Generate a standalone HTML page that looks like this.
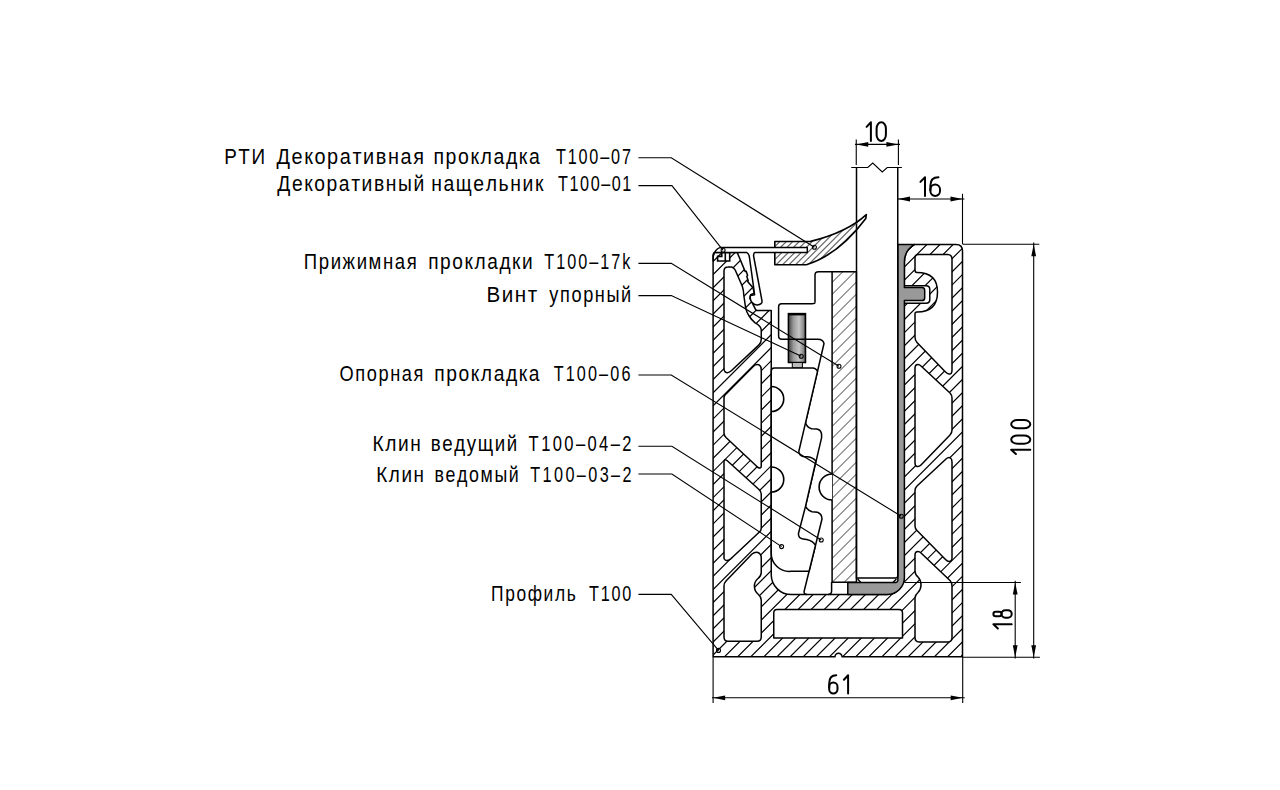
<!DOCTYPE html>
<html><head><meta charset="utf-8"><style>
html,body{margin:0;padding:0;background:#fff;width:1280px;height:790px;overflow:hidden}
svg{display:block}
.lb{font-family:"Liberation Sans",sans-serif;font-size:22.5px;fill:#000}
.dm{font-family:"Liberation Sans",sans-serif;font-size:29px;fill:#000;stroke:#fff;stroke-width:0.35px}
.ld{fill:none;stroke:#000;stroke-width:1.1}
</style></head><body>
<svg width="1280" height="790" viewBox="0 0 1280 790">
<defs>
<linearGradient id="scr" x1="0" y1="0" x2="1" y2="0">
<stop offset="0" stop-color="#444"/><stop offset="0.3" stop-color="#9a9a9a"/><stop offset="0.62" stop-color="#c6c6c6"/><stop offset="0.88" stop-color="#8a8a8a"/><stop offset="1" stop-color="#444"/>
</linearGradient>
</defs>
<clipPath id="cp"><path d="M713.1,261 L713.1,256 Q713.4,252.6 715,252.6 L737.3,252.6 L745.1,271.4 L746.2,271.2 L747.6,275.5 L746.8,276.4 L748.2,280.5 L747.6,281.4 L753,287.8 L754.3,293.2 L750.6,294.8 L749.9,298.5 L753,304.3 L755.4,309.2 L756.6,310.6 L771.25,310.6 L771.25,575 A20,20 0 0 0 791.25,594.6 L886.5,594.6 A17,17 0 0 0 903.6,577.5 L904.4,262.3 A20.3,20.3 0 0 1 914.7,244.4 L956,244.4 Q962.5,244.4 962.5,251 L962.5,656.8 L842,656.8 A3.5,3.5 0 0 0 835,656.8 L713.1,656.8 Z"/></clipPath>
<path d="M270.22,665L695.22,240M283.34,665L708.34,240M296.46,665L721.46,240M309.58,665L734.58,240M322.7,665L747.7,240M335.82,665L760.82,240M348.94,665L773.94,240M362.06,665L787.06,240M375.18,665L800.18,240M388.3,665L813.3,240M401.42,665L826.42,240M414.54,665L839.54,240M427.66,665L852.66,240M440.78,665L865.78,240M453.9,665L878.9,240M467.02,665L892.02,240M480.14,665L905.14,240M493.26,665L918.26,240M506.38,665L931.38,240M519.5,665L944.5,240M532.62,665L957.62,240M545.74,665L970.74,240M558.86,665L983.86,240M571.98,665L996.98,240M585.1,665L1010.1,240M598.22,665L1023.22,240M611.34,665L1036.34,240M624.46,665L1049.46,240M637.58,665L1062.58,240M650.7,665L1075.7,240M663.82,665L1088.82,240M676.94,665L1101.94,240M690.06,665L1115.06,240M703.18,665L1128.18,240M716.3,665L1141.3,240M729.42,665L1154.42,240M742.54,665L1167.54,240M755.66,665L1180.66,240M768.78,665L1193.78,240M781.9,665L1206.9,240M795.02,665L1220.02,240M808.14,665L1233.14,240M821.26,665L1246.26,240M834.38,665L1259.38,240M847.5,665L1272.5,240M860.62,665L1285.62,240M873.74,665L1298.74,240M886.86,665L1311.86,240M899.98,665L1324.98,240M913.1,665L1338.1,240M926.22,665L1351.22,240M939.34,665L1364.34,240M952.46,665L1377.46,240M965.58,665L1390.58,240M978.7,665L1403.7,240" stroke="#000" stroke-width="1.2" clip-path="url(#cp)"/>
<path d="M713.1,261 L713.1,256 Q713.4,252.6 715,252.6 L737.3,252.6 L745.1,271.4 L746.2,271.2 L747.6,275.5 L746.8,276.4 L748.2,280.5 L747.6,281.4 L753,287.8 L754.3,293.2 L750.6,294.8 L749.9,298.5 L753,304.3 L755.4,309.2 L756.6,310.6 L771.25,310.6 L771.25,575 A20,20 0 0 0 791.25,594.6 L886.5,594.6 A17,17 0 0 0 903.6,577.5 L904.4,262.3 A20.3,20.3 0 0 1 914.7,244.4 L956,244.4 Q962.5,244.4 962.5,251 L962.5,656.8 L842,656.8 A3.5,3.5 0 0 0 835,656.8 L713.1,656.8 Z" fill="none" stroke="#000" stroke-width="1.5" stroke-linejoin="round"/>
<path d="M724,368 L724,271 Q724,267 728,267 L731.6,266.9 Q734,267.5 735.2,270 L742.3,286.2 Q743.6,290 743.9,296 L745.6,307.6 Q746.5,312 748.8,315.5 Q751.5,320 755.1,322.8 Q761.25,326 761.25,330 L761.25,339.5 Q761.25,343 758.7,345.1 L731.3,370.8 Q727.6,374.2 724.9,371.6 Q724,370.5 724,368 Z" fill="#fff" stroke="#000" stroke-width="1.5" stroke-linejoin="round"/>
<path d="M724,398 Q724,395.5 726,394 L753.5,366.3 Q756.5,363.6 759.5,365.2 Q761.25,366.5 761.25,370 L761.25,466 Q761.25,469 758,467.5 L726,437.5 Q724,435.5 724,433 Z" fill="#fff" stroke="#000" stroke-width="1.5" stroke-linejoin="round"/>
<path d="M724,462 Q724,458.5 727,460.5 L759,489.5 Q761.25,491.5 761.25,494 L761.25,528 Q761.25,530.5 759.4,532 L730.3,559.2 Q726,562.3 724,558.5 Z" fill="#fff" stroke="#000" stroke-width="1.5" stroke-linejoin="round"/>
<path d="M724,586 Q724,583 726,581 L752,554 Q755,551.5 758,552.5 Q761.25,554 761.25,558 L761.25,572.5 Q761.25,576 758,578.5 Q754.4,581.5 754.4,586 Q754.4,591 758,594 Q761.25,597 761.25,600 L761.25,637 Q761.25,641.3 757,641.3 L728,641.3 Q724,641.3 724,637 Z" fill="#fff" stroke="#000" stroke-width="1.5" stroke-linejoin="round"/>
<path d="M915,258 Q915,254.6 918.4,254.6 L948,254.6 Q952,255 952,259 L952,370 Q952,374.5 949,374 Q947.5,374 945,371.5 L917,342.5 Q915,340.5 915,337 L915,314 Q915,312 917,312 Q937.5,312 937.5,292 Q937.5,272.5 917,272.5 Q915,272.5 915,270 Z" fill="#fff" stroke="#000" stroke-width="1.5" stroke-linejoin="round"/>
<path d="M915,368 Q915,364.5 918,364.5 Q919.5,364.5 921,366 L950,393 Q952,395 952,398 L952,430 Q952,433 950,435 L921,465 Q919,467 917,466.5 Q915,466 915,463 Z" fill="#fff" stroke="#000" stroke-width="1.5" stroke-linejoin="round"/>
<path d="M915,490.5 Q915,488 917,486 L946,459 Q948.5,456.8 950.5,458 Q952,459 952,462 L952,558 Q952,561.5 949,561.5 Q947.5,561.5 945.5,559.5 L917,530.5 Q915,528.5 915,526 Z" fill="#fff" stroke="#000" stroke-width="1.5" stroke-linejoin="round"/>
<path d="M915,555 Q915,551.5 918,551.5 Q919.5,551.5 921,553 L950,580.5 Q952,582.5 952,586 L952,637.5 Q952,641.9 948,641.9 L919,641.9 Q915,641.9 915,637.5 L915,598 Q915,595 918,592.5 Q921,589.5 921,585 Q921,580 918,577 Q915,574.5 915,571 Z" fill="#fff" stroke="#000" stroke-width="1.5" stroke-linejoin="round"/>
<path d="M903,285.8 L926,285.8 Q929.8,285.8 929.8,289.5 L929.8,299.5 Q929.8,303.3 926,303.3 L903,303.3 Z" fill="#fff" stroke="#000" stroke-width="1.5" stroke-linejoin="round"/>
<path d="M777,609.4 L899,609.4 Q902.5,609.4 902.5,613 L902.5,638.1 L773.75,638.1 L773.75,613 Q773.75,609.4 777,609.4 Z" fill="#fff" stroke="#000" stroke-width="1.5" stroke-linejoin="round"/>
<path d="M897.75,244.4 L914.7,244.4 A20.3,20.3 0 0 0 904.4,262.3 L904.4,287.6 L922,287.6 Q924.7,287.6 924.7,290.5 L924.7,297.7 Q924.7,300.6 922,300.6 L904.4,300.6 L904.4,577.5 A17,17 0 0 1 887.4,594.5 L847.8,594.5 L847.8,582.6 L896,582.6 Q897.9,582.2 897.9,580 Z" fill="#999" stroke="#000" stroke-width="1.5" stroke-linejoin="round"/>
<clipPath id="cl"><rect x="832.1" y="271.8" width="24.3" height="310.5"/></clipPath>
<path d="M506.5,584L820.5,270M518.5,584L832.5,270M530.5,584L844.5,270M542.5,584L856.5,270M554.5,584L868.5,270M566.5,584L880.5,270M578.5,584L892.5,270M590.5,584L904.5,270M602.5,584L916.5,270M614.5,584L928.5,270M626.5,584L940.5,270M638.5,584L952.5,270M650.5,584L964.5,270M662.5,584L976.5,270M674.5,584L988.5,270M686.5,584L1000.5,270M698.5,584L1012.5,270M710.5,584L1024.5,270M722.5,584L1036.5,270M734.5,584L1048.5,270M746.5,584L1060.5,270M758.5,584L1072.5,270M770.5,584L1084.5,270M782.5,584L1096.5,270M794.5,584L1108.5,270M806.5,584L1120.5,270M818.5,584L1132.5,270M830.5,584L1144.5,270M842.5,584L1156.5,270M854.5,584L1168.5,270M866.5,584L1180.5,270" stroke="#777" stroke-width="1.1" clip-path="url(#cl)"/>
<path d="M832.1,271.8 L856.4,271.8 L856.4,582.3 L832.1,582.3 Z" fill="none" stroke="#000" stroke-width="1.5"/>
<rect x="788.4" y="313.6" width="17.1" height="48.9" fill="url(#scr)" stroke="#000" stroke-width="1.5"/>
<path d="M788.4,314.2 L805.5,314.2" stroke="#000" stroke-width="2.4"/>
<rect x="792.3" y="362.5" width="10.1" height="5.4" fill="#bbb" stroke="#000" stroke-width="1"/>
<path d="M815,302.6 L815,275 Q815,271.8 818.5,271.8 L832.1,271.8" fill="none" stroke="#000" stroke-width="1.5"/>
<path d="M815,302.6 Q815,303.8 812,303.8 L781.5,303.8 Q778.6,303.8 778.6,307 L778.6,336 Q778.6,339.25 782,339.25 L818,339.25 Q823,339.25 824,343.5 L805.5,422.8 Q807,427.5 811.5,428.8 L816.9,429.1 Q821.6,430 821.6,435.5 L821.6,437.7 L805.5,506.4 Q807.5,510.3 812,511.7 L817.5,512.3 Q822,514 822,519 L804.2,591 Q803.5,594.4 807,594.4" fill="none" stroke="#000" stroke-width="1.5" stroke-linejoin="round"/>
<path d="M831.6,582 L831.6,591 Q831.6,594.5 828,594.5" fill="none" stroke="#000" stroke-width="1.5"/>
<path d="M771.25,371 Q771.25,367.9 774.5,367.9 L812.5,367.9 Q816,367.9 817.5,371.4 L805.5,422.8 L798.8,451.5 Q799.5,456 803,456.4 L807.5,456.8 Q813,457.5 815.9,461 L805.5,506.4 L798.4,533.75 Q798.5,538.4 803,539 L806.7,539.6 Q813,541 815.45,545.5 L809.1,571.3 L790.8,571.3 A18,18 0 0 1 771.25,553 Z" fill="#fff" stroke="#000" stroke-width="1.5" stroke-linejoin="round"/>
<path d="M771.25,386.5 A12.5,12.5 0 0 1 771.25,411.5 M771.25,467 A12.5,12.5 0 0 1 771.25,492" fill="none" stroke="#000" stroke-width="1.6"/>
<path d="M832.1,474 A13,13 0 0 0 832.1,500" fill="#fff" stroke="#000" stroke-width="1.6"/>
<path d="M856.5,167.5 L856.5,578.1 L895.5,578.1 Q897.75,578.1 897.75,575.8 L897.75,167.5 M857.6,579 L860.6,582.2 M893.2,582.2 L896.4,579" fill="none" stroke="#000" stroke-width="1.5"/>
<path d="M851.25,167.5 L867.75,167.5 L872.75,163.1 L882.25,171.9 L887.25,167.5 L901.9,167.5" fill="none" stroke="#000" stroke-width="1.1"/>
<clipPath id="cd"><path d="M774.8,241.5 L810.6,241.4 Q847.3,232.2 866.3,214.6 L865.8,218.5 Q838.5,254.9 806.4,264.7 L774.8,264.7 Z"/></clipPath>
<path d="M706.21,270L766.21,210M712.67,270L772.67,210M719.13,270L779.13,210M725.59,270L785.59,210M732.05,270L792.05,210M738.51,270L798.51,210M744.97,270L804.97,210M751.43,270L811.43,210M757.89,270L817.89,210M764.35,270L824.35,210M770.81,270L830.81,210M777.27,270L837.27,210M783.73,270L843.73,210M790.19,270L850.19,210M796.65,270L856.65,210M803.11,270L863.11,210M809.57,270L869.57,210M816.03,270L876.03,210M822.49,270L882.49,210M828.95,270L888.95,210M835.41,270L895.41,210M841.87,270L901.87,210M848.33,270L908.33,210M854.79,270L914.79,210M861.25,270L921.25,210M867.71,270L927.71,210M874.17,270L934.17,210" stroke="#666" stroke-width="1.2" clip-path="url(#cd)"/>
<path d="M774.8,241.5 L810.6,241.4 Q847.3,232.2 866.3,214.6 L865.8,218.5 Q838.5,254.9 806.4,264.7 L774.8,264.7 Z" fill="none" stroke="#000" stroke-width="1.6" stroke-linejoin="round"/>
<path d="M807.3,247.4 L720.5,247.4 Q714.5,249 713.2,257 L713.2,261 L713.2,256 Q713.4,252.6 715,252.6 L746.9,252.6 Q748.8,253.5 749.4,257 L753.8,288.7 L754.6,294.8 L750.5,295.6 Q749.4,299 752.1,302.6 Q754.5,305.2 757.1,304.9 Q762.6,304.4 762,300.8 L753.6,256 Q753.4,253 755,252.6 L807.3,252.6 Z" fill="#fff" stroke="#000" stroke-width="1.5" stroke-linejoin="round"/>
<path d="M717.6,256.4 L721.8,256.4 L721.8,252.8 L729.7,252.8 L729.7,261 L717.6,261 Z" fill="#fff" stroke="#000" stroke-width="1.6"/>
<path d="M725.3,253 L725.3,261" fill="none" stroke="#000" stroke-width="1.6"/>
<path d="M856.25,165 L856.25,139.4 M898.4,165 L898.4,139.4 M855,144.4 L900,144.4" stroke="#000" stroke-width="1.1" fill="none"/>
<path d="M856.25,144.4 L868.25,142 L868.25,146.8 Z" fill="#000"/>
<path d="M898.4,144.4 L886.4,146.8 L886.4,142 Z" fill="#000"/>
<path d="M962.5,193.75 L962.5,244 M897.5,199 L964.4,199" stroke="#000" stroke-width="1.1" fill="none"/>
<path d="M898,199 L910,196.6 L910,201.4 Z" fill="#000"/>
<path d="M962.5,199 L950.5,201.4 L950.5,196.6 Z" fill="#000"/>
<path d="M962.5,244.3 L1039.3,244.3 M1033.7,242.5 L1033.7,658.6 M962.5,657.3 L1039.9,657.3" stroke="#000" stroke-width="1.1" fill="none"/>
<path d="M1033.7,244.3 L1036.1,256.3 L1031.3,256.3 Z" fill="#000"/>
<path d="M1033.7,657.3 L1031.3,645.3 L1036.1,645.3 Z" fill="#000"/>
<path d="M904.4,582.5 L1020.9,582.5 M1015.2,580.8 L1015.2,658.6" stroke="#000" stroke-width="1.1" fill="none"/>
<path d="M1015.2,582.5 L1017.6,594.5 L1012.8,594.5 Z" fill="#000"/>
<path d="M1015.2,657.3 L1012.8,645.3 L1017.6,645.3 Z" fill="#000"/>
<path d="M713.1,657 L713.1,703 M962.7,657 L962.7,703 M712,697.8 L964.7,697.8" stroke="#000" stroke-width="1.1" fill="none"/>
<path d="M713.1,697.8 L725.1,695.4 L725.1,700.2 Z" fill="#000"/>
<path d="M962.7,697.8 L950.7,700.2 L950.7,695.4 Z" fill="#000"/>
<g fill="none" stroke="#000" stroke-width="2" stroke-linecap="round" stroke-linejoin="round">
<path d="M866.6,126.86 L870.9,122.3 L870.9,140.9"/>
<rect x="876.6" y="122.3" width="9.3" height="18.6" rx="4.65" ry="6.14"/>
<path d="M920.4,181.86 L925,177.3 L925,195.9"/>
<rect x="930.4" y="184.54" width="9.6" height="11.36" rx="4.8" ry="4.8"/><path d="M930.4,190.34 L930.4,185.57 C930.4,180.01 933.46,177.3 938.45,177.3"/>
<rect x="829.2" y="682.38" width="8.3" height="11.12" rx="4.15" ry="4.15"/><path d="M829.2,687.53 L829.2,683.39 C829.2,677.94 831.81,675.3 836.23,675.3"/>
<path d="M843.9,679.75 L848.1,675.3 L848.1,693.5"/>
<g transform="translate(1031.3 455) rotate(-90)">
<path d="M1,-15.4 L5.3,-20.1 L5.3,-1"/>
<rect x="11.3" y="-20.1" width="8.3" height="19.1" rx="4.15" ry="6.3"/>
<rect x="26.7" y="-20.1" width="8.3" height="19.1" rx="4.15" ry="6.3"/>
</g>
<g transform="translate(1012.7 629.5) rotate(-90)">
<path d="M1,-14.82 L5.3,-19.3 L5.3,-1"/>
<rect x="13.3" y="-19.3" width="4.5" height="8.12" rx="2.25" ry="2.25"/><rect x="11.8" y="-11.18" width="7.5" height="10.18" rx="3.75" ry="3.75"/>
</g>
</g>
<text transform="scale(0.839 1)" x="267.17 284.08 299.74" y="163.6" class="lb">РТИ</text>
<text transform="scale(0.883 1)" x="313.09 330.14 344.47 356.13 370.46 384.79 399.12 411.24 425.63 439.4 453.64 467.97" y="163.6" class="lb">Декоративная</text>
<text transform="scale(0.865 1)" x="501.1 515.13 529.49 543.85 555.54 570.51 584.87 599.84 611.53" y="163.6" class="lb">прокладка</text>
<text transform="scale(0.72 1)" x="772.13 788.43 803.5 818.56 833.63 848.69 863.76" y="163.6" class="lb">Т100–07</text>
<text transform="scale(0.856 1)" x="323.9 341.01 355.39 367.11 381.49 395.87 410.26 422.43 436.87 450.7 464.99 483.03" y="191.3" class="lb">Декоративный</text>
<text transform="scale(0.86 1)" x="501.35 515.63 530 550.37 564.74 579.73 593.31 607.6 622.02" y="191.3" class="lb">нащельник</text>
<text transform="scale(0.72 1)" x="775.05 790.97 805.66 820.35 835.04 849.73 864.42" y="191.3" class="lb">Т100–01</text>
<text transform="scale(0.825 1)" x="368.24 386.35 400.8 415.3 432.29 446.79 464.2 478.56 493.01" y="269.4" class="lb">Прижимная</text>
<text transform="scale(0.848 1)" x="504.93 518.99 533.39 547.78 559.5 574.51 588.91 603.92 615.64" y="269.4" class="lb">прокладки</text>
<text transform="scale(0.72 1)" x="756.02 772.52 787.79 803.06 818.33 833.6 848.87 864.13" y="269.4" class="lb">Т100–17k</text>
<text transform="scale(0.915 1)" x="531.6 548.36 562.68 576.86" y="301.9" class="lb">Винт</text>
<text transform="scale(0.807 1)" x="680.74 693.97 708.13 722.62 737.11 751.51 769.66" y="301.9" class="lb">упорный</text>
<text transform="scale(0.809 1)" x="419.7 439.19 453.35 467.85 482.35 496.76 511.26" y="380.8" class="lb">Опорная</text>
<text transform="scale(0.855 1)" x="507.8 521.86 536.25 550.64 562.36 577.36 591.75 606.76 618.48" y="380.8" class="lb">прокладка</text>
<text transform="scale(0.72 1)" x="768.94 785.65 801.13 816.61 832.1 847.58 863.06" y="380.8" class="lb">Т100–06</text>
<text transform="scale(0.849 1)" x="438.67 453.66 468.68 483.13" y="451.3" class="lb">Клин</text>
<text transform="scale(0.831 1)" x="518.3 532.18 546.63 561.69 574.87 595.31 609.81" y="451.3" class="lb">ведущий</text>
<text transform="scale(0.735 1)" x="719.22 736.24 752.02 767.8 783.58 799.37 815.15 830.93 846.71" y="451.3" class="lb">Т100–04–2</text>
<text transform="scale(0.839 1)" x="448.45 463.46 478.48 492.95" y="482.5" class="lb">Клин</text>
<text transform="scale(0.791 1)" x="549.39 563.36 577.88 593.03 607.56 625.04 643.23" y="482.5" class="lb">ведомый</text>
<text transform="scale(0.721 1)" x="735.42 752.49 768.33 784.17 800.01 815.85 831.69 847.53 863.38" y="482.5" class="lb">Т100–03–2</text>
<text transform="scale(0.772 1)" x="636.13 654.38 668.98 683.57 704.16 718.81 734.02" y="601" class="lb">Профиль</text>
<text transform="scale(0.72 1)" x="818.11 834.29 849.24 864.2" y="601" class="lb">Т100</text>
<polyline points="638.4,157.75 671.25,157.75 814.4,247.3" class="ld"/>
<circle cx="814.4" cy="247.3" r="2" fill="none" stroke="#000" stroke-width="1.1"/>
<polyline points="638.4,185.6 671.9,185.6 723.1,250.3" class="ld"/>
<circle cx="723.1" cy="250.3" r="2" fill="none" stroke="#000" stroke-width="1.1"/>
<polyline points="638.4,263.4 671.25,263.4 839,366.25" class="ld"/>
<circle cx="839" cy="366.25" r="2" fill="none" stroke="#000" stroke-width="1.1"/>
<polyline points="638.4,295.6 671.25,295.6 801.25,356.25" class="ld"/>
<circle cx="801.25" cy="356.25" r="2" fill="none" stroke="#000" stroke-width="1.1"/>
<polyline points="638.4,375 671.25,375 901.25,516.25" class="ld"/>
<circle cx="901.25" cy="516.25" r="2" fill="none" stroke="#000" stroke-width="1.1"/>
<polyline points="638.4,446.25 671.9,446.25 821.25,540" class="ld"/>
<circle cx="821.25" cy="540" r="2" fill="none" stroke="#000" stroke-width="1.1"/>
<polyline points="638.4,474 671.9,474 781.6,546.6" class="ld"/>
<circle cx="781.6" cy="546.6" r="2" fill="none" stroke="#000" stroke-width="1.1"/>
<polyline points="638.4,594.4 671.25,594.4 718.5,650.4" class="ld"/>
<circle cx="718.5" cy="650.4" r="2" fill="none" stroke="#000" stroke-width="1.1"/>
</svg></body></html>
